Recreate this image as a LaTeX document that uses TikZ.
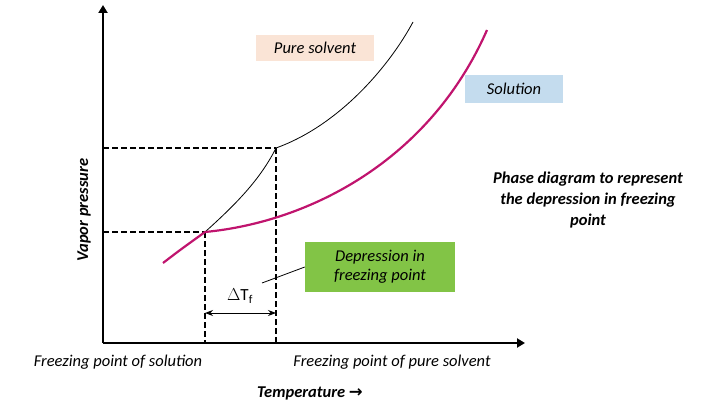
\documentclass[tikz,border=0pt]{standalone}
\usepackage{fontspec}
\setmainfont{Carlito}
\usetikzlibrary{arrows.meta}
\definecolor{mag}{RGB}{192,20,110}
\definecolor{peach}{RGB}{250,228,214}
\definecolor{lblue}{RGB}{196,220,238}
\definecolor{lgreen}{RGB}{130,196,70}
\tikzset{lbl/.style={font=\itshape\fontsize{16.5}{19}\selectfont},
 bl/.style={font=\bfseries\itshape\fontsize{16.5}{21}\selectfont},
 dsh/.style={dash pattern=on 6pt off 3pt, line width=1.5pt}}
\begin{document}
\begin{tikzpicture}[x=1pt,y=-1pt]
\useasboundingbox (0,0) rectangle (720,412);
\coordinate (O) at (103,343);
\coordinate (Ytop) at (103,5);
\coordinate (Xend) at (525,343);
\coordinate (A) at (205,232);
\coordinate (B) at (276,148);
\coordinate (Ay) at (103,232);
\coordinate (By) at (103,148);
\coordinate (Ax) at (205,343);
\coordinate (Bx) at (276,343);
\coordinate (S0) at (163,263);
\coordinate (S1) at (487,30);
\coordinate (P1) at (413,22);
\coordinate (dL) at (205,313);
\coordinate (dR) at (276,313);
\coordinate (lead) at (262,283);
\draw[line width=2.5pt,-{Triangle[length=8pt,width=9pt]}] (O) -- (Ytop);
\draw[line width=2.5pt,-{Triangle[length=8pt,width=9pt]}] (O) -- (Xend);
\draw[dsh] (By) -- (B) (Ay) -- (A) (A) -- (Ax) (B) -- (Bx);
\draw[line width=0.8pt] (A) .. controls (235,205) and (260,180) .. (B) .. controls (340,125) and (390,65) .. (P1);
\draw[mag,line width=2.2pt] (S0) .. controls (180,250) .. (A) .. controls (310,222) and (430,160) .. (S1);
\draw[line width=1pt,{Stealth[length=8pt]}-{Stealth[length=8pt]}] (dL) -- (dR);
\node (dt) at (240,296) {\fontsize{17}{19}\selectfont $\Delta$T$_\mathrm{f}$};
\node[fill=lgreen,minimum width=150pt,minimum height=50pt,align=center,lbl] (dep) at (380,267) {Depression in\\freezing point};
\draw[line width=0.8pt] (lead) -- (dep.west);
\node[fill=peach,lbl,minimum width=118pt,minimum height=26pt] (ps) at (315,48) {Pure solvent};
\node[fill=lblue,lbl,minimum width=98pt,minimum height=28pt] (sol) at (514,89) {Solution};
\node[align=center,bl] (ph) at (588,200) {Phase diagram to represent\\the depression in freezing\\point};
\node[rotate=90,bl] (vp) at (84,210) {Vapor pressure};
\node[lbl] (fs) at (118,362) {Freezing point of solution};
\node[lbl] (fp) at (392,362) {Freezing point of pure solvent};
\node[bl] (tm) at (310,393) {Temperature {\fontspec{DejaVu Sans}\bfseries →}};
\end{tikzpicture}
\end{document}
